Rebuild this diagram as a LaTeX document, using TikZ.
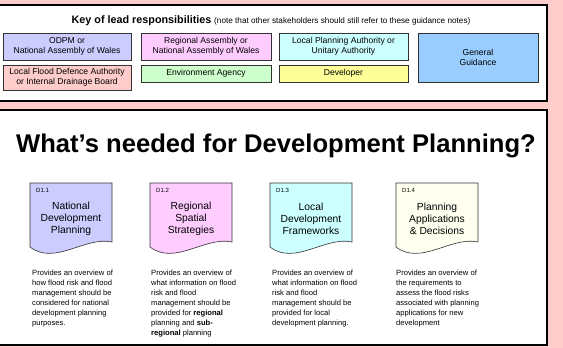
\documentclass[tikz,border=0pt]{standalone}
\usepackage{fontspec}
\setmainfont{Liberation Sans}
\definecolor{bgpink}{HTML}{FFCCCC}
\definecolor{codpm}{HTML}{CCCCFF}
\definecolor{creg}{HTML}{FFCCFF}
\definecolor{clpa}{HTML}{CCFFFF}
\definecolor{cgen}{HTML}{99CCFF}
\definecolor{cflood}{HTML}{FFCCCC}
\definecolor{cea}{HTML}{CCFFCC}
\definecolor{cdev}{HTML}{FFFF99}
\definecolor{cplan}{HTML}{FFFFF0}
\definecolor{keyline}{HTML}{333333}
\tikzset{
  keybox/.style={draw=keyline,line width=0.9pt,rectangle,align=center,inner sep=0pt,
    font=\fontsize{8.6}{9.5}\selectfont,minimum width=#1},
  frame/.style={draw=black,line width=1.6pt,fill=white},
  docshape/.style={draw=black!80,line width=0.6pt},
  doclabel/.style={anchor=west,inner sep=0pt,font=\fontsize{6}{7}\selectfont},
  doctitle/.style={align=center,inner sep=0pt,font=\fontsize{10.3}{12}\selectfont},
  desc/.style={anchor=north west,align=left,inner sep=0pt,font=\fontsize{7.6}{10}\selectfont}
}
\newcommand{\docpath}[3]{% left, fill colour, name
  \path[docshape,fill=#2] (#1,183) -- (#1+82,183) -- (#1+82,242)
    .. controls (#1+55,236) and (#1+25,266) .. (#1,247) -- cycle;
}
\begin{document}
\begin{tikzpicture}[x=1pt,y=-1pt]
\useasboundingbox (0,0) rectangle (563,348);
\fill[bgpink] (0,0) rectangle (563,348);
% frames
\path[frame] (-3,5) rectangle (547,101);
\path[frame] (-3,110) rectangle (547,345);
% key title
\node[inner sep=0pt] (keytitle) at (271,21)
  {{\fontsize{10.8}{12}\selectfont\bfseries Key of lead responsibilities} {\fontsize{8.2}{9}\selectfont (note that other stakeholders should still refer to these guidance notes)}};
% key boxes
\node[keybox=128pt,minimum height=27pt,fill=codpm] (odpm) at (67,46.5) {ODPM or\\National Assembly of Wales};
\node[keybox=130pt,minimum height=27pt,fill=creg] (reg) at (206,46.5) {Regional Assembly or\\National Assembly of Wales};
\node[keybox=129pt,minimum height=27pt,fill=clpa] (lpa) at (343.5,46.5) {Local Planning Authority or\\Unitary Authority};
\node[keybox=120pt,minimum height=49pt,fill=cgen] (gen) at (478,57.5) {General\\Guidance};
\node[keybox=128pt,minimum height=25pt,fill=cflood] (flood) at (67,77.5) {Local Flood Defence Authority\\or Internal Drainage Board};
\node[keybox=130pt,minimum height=17pt,fill=cea] (ea) at (206,73.5) {Environment Agency};
\node[keybox=129pt,minimum height=17pt,fill=cdev] (dev) at (343.5,73.5) {Developer};
% main title
\node[inner sep=0pt,font=\fontsize{25.6}{29}\selectfont\bfseries] (title) at (276,146) {What’s needed for Development Planning?};
% documents
\docpath{30}{codpm}{d11}
\docpath{150}{creg}{d12}
\docpath{270}{clpa}{d13}
\docpath{396}{cplan}{d14}
\node[doclabel] (l11) at (36,190) {D1.1};
\node[doclabel] (l12) at (156,190) {D1.2};
\node[doclabel] (l13) at (276,190) {D1.3};
\node[doclabel] (l14) at (402,190) {D1.4};
\node[doctitle] (t11) at (71,219) {National\\Development\\Planning};
\node[doctitle] (t12) at (191,219) {Regional\\Spatial\\Strategies};
\node[doctitle] (t13) at (311,219) {Local\\Development\\Frameworks};
\node[doctitle] (t14) at (437,219) {Planning\\Applications\\\& Decisions};
% descriptions
\node[desc] (s11) at (32,269.5) {Provides an overview of\\how flood risk and flood\\management should be\\considered for national\\development planning\\purposes.};
\node[desc] (s12) at (151,269.5) {Provides an overview of\\what information on flood\\risk and flood\\management should be\\provided for \textbf{regional}\\planning and \textbf{sub-}\\\textbf{regional} planning};
\node[desc] (s13) at (272,269.5) {Provides an overview of\\what information on flood\\risk and flood\\management should be\\provided for local\\development planning.};
\node[desc] (s14) at (396,269.5) {Provides an overview of\\the requirements to\\assess the flood risks\\associated with planning\\applications for new\\development};
\end{tikzpicture}
\end{document}
